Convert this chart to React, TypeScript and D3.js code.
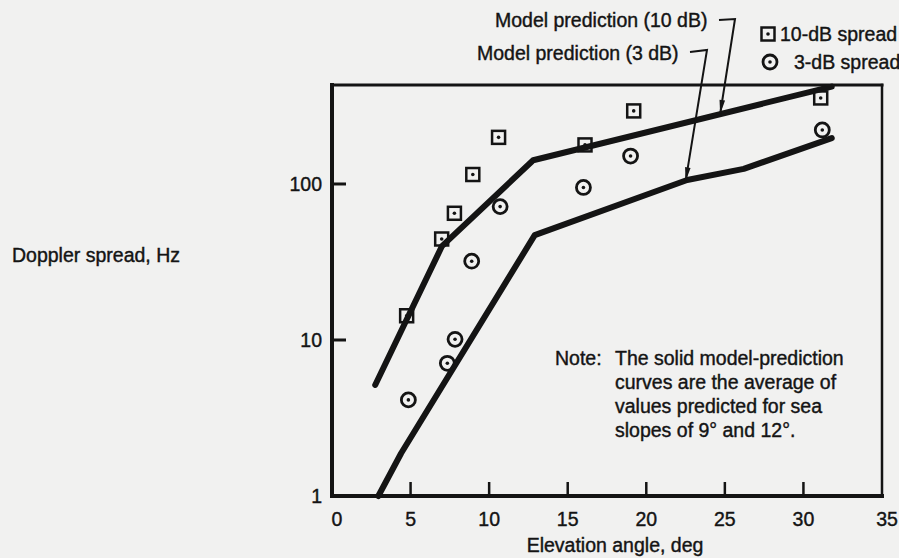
import * as d3 from 'd3';
import { useRef, useEffect } from 'react';

// 10-dB spread measurements (squares)
const spread10Angle = [4.75, 6.98, 7.79, 8.96, 10.6, 16.1, 19.2, 31.1];
const spread10Hz = [14.3, 44.4, 64.9, 115, 199, 178, 294, 356];

// 3-dB spread measurements (circles)
const spread3Angle = [4.86, 7.34, 7.83, 8.89, 10.7, 16.0, 19.0, 31.2];
const spread3Hz = [4.13, 7.09, 10.1, 32, 71.6, 95, 151, 222];

// model prediction curves
const model10Angle = [2.75, 7.0, 12.8, 31.8];
const model10Hz = [5.15, 40, 142, 421];
const model3Angle = [2.95, 4.4, 12.9, 22.6, 26.2, 31.8];
const model3Hz = [1, 1.88, 47, 106, 125, 197];

const xTicks = [0, 5, 10, 15, 20, 25, 30, 35];
const yTicks = [1, 10, 100];

const noteLines = [
  'The solid model-prediction',
  'curves are the average of',
  'values predicted for sea',
  'slopes of 9° and 12°.',
];

const W = 899;
const H = 558;
const FONT = '"Liberation Sans", Arial, sans-serif';
const INK = '#141414';
const BG = '#f1f1f0';

export default function App() {
  const svgRef = useRef<SVGSVGElement | null>(null);

  useEffect(() => {
    if (!svgRef.current) return;
    const root = d3.select(svgRef.current);
    root.selectAll('*').remove();

    const left = 332;
    const right = 882;
    const top = 85;
    const bottom = 496;

    const x = d3.scaleLinear().domain([0, 35]).range([left, right]);
    const y = d3.scaleLog().domain([1, 431]).range([bottom, top]);

    root.append('rect').attr('width', W).attr('height', H).attr('fill', BG);

    const text = (tx: number, ty: number, s: string, anchor = 'start') =>
      root
        .append('text')
        .attr('x', tx)
        .attr('y', ty)
        .attr('text-anchor', anchor)
        .attr('font-family', FONT)
        .attr('font-size', '19.5px')
        .attr('fill', INK)
        .attr('stroke', INK)
        .attr('stroke-width', 0.4)
        .text(s);

    // Marco
    const frame: [number, number, number, number, number][] = [
      [left, top, left, bottom, 4],
      [left, bottom, right, bottom, 4],
      [left, top, right, top, 3],
      [right, top, right, bottom, 2.5],
    ];
    frame.forEach(([x1, y1, x2, y2, w]) => {
      root
        .append('line')
        .attr('x1', x1)
        .attr('y1', y1)
        .attr('x2', x2)
        .attr('y2', y2)
        .attr('stroke', INK)
        .attr('stroke-width', w)
        .attr('stroke-linecap', 'square');
    });

    // Marcas X (hacia dentro)
    xTicks.forEach((v) => {
      if (v > 0 && v < 35) {
        root
          .append('line')
          .attr('x1', x(v))
          .attr('x2', x(v))
          .attr('y1', bottom)
          .attr('y2', bottom - 14)
          .attr('stroke', INK)
          .attr('stroke-width', 2.5);
      }
      const dx = v === 0 || v === 35 ? 5 : 0;
      text(x(v) + dx, 526, `${v}`, 'middle');
    });

    // Marcas Y
    yTicks.forEach((v) => {
      if (v > 1) {
        root
          .append('line')
          .attr('x1', left)
          .attr('x2', left + 14)
          .attr('y1', y(v))
          .attr('y2', y(v))
          .attr('stroke', INK)
          .attr('stroke-width', 3);
      }
      text(322, y(v) + 7, `${v}`, 'end');
    });

    text(615, 552, 'Elevation angle, deg', 'middle');
    text(12, 262, 'Doppler spread, Hz');

    // Marcadores
    const square = (cx: number, cy: number) => {
      root
        .append('rect')
        .attr('x', cx - 6.5)
        .attr('y', cy - 6.5)
        .attr('width', 13)
        .attr('height', 13)
        .attr('fill', BG)
        .attr('stroke', INK)
        .attr('stroke-width', 2.5);
      root.append('circle').attr('cx', cx).attr('cy', cy).attr('r', 1.8).attr('fill', INK);
    };
    const ring = (cx: number, cy: number) => {
      root
        .append('circle')
        .attr('cx', cx)
        .attr('cy', cy)
        .attr('r', 7)
        .attr('fill', BG)
        .attr('stroke', INK)
        .attr('stroke-width', 2.8);
      root.append('circle').attr('cx', cx).attr('cy', cy).attr('r', 1.8).attr('fill', INK);
    };

    spread10Angle.forEach((a, i) => square(x(a), y(spread10Hz[i])));
    spread3Angle.forEach((a, i) => ring(x(a), y(spread3Hz[i])));

    // Curvas del modelo
    const drawCurve = (angles: number[], hz: number[]) => {
      const pts = angles.map((a, i) => [x(a), y(hz[i])] as [number, number]);
      root
        .append('path')
        .attr('d', d3.line()(pts))
        .attr('fill', 'none')
        .attr('stroke', INK)
        .attr('stroke-width', 6)
        .attr('stroke-linejoin', 'round')
        .attr('stroke-linecap', 'round');
    };
    drawCurve(model10Angle, model10Hz);
    drawCurve(model3Angle, model3Hz);

    // Líneas guía con flecha
    const leader = (tx: number, ty: number, cornerX: number, cornerY: number, endX: number, endY: number) => {
      root
        .append('path')
        .attr('d', `M${tx},${ty}L${cornerX},${cornerY}L${endX},${endY}`)
        .attr('fill', 'none')
        .attr('stroke', INK)
        .attr('stroke-width', 2);
      const ang = Math.atan2(endY - cornerY, endX - cornerX);
      const len = 14;
      const half = 2.8;
      const bx = endX - Math.cos(ang) * len;
      const by = endY - Math.sin(ang) * len;
      const px = -Math.sin(ang) * half;
      const py = Math.cos(ang) * half;
      root
        .append('path')
        .attr('d', `M${endX},${endY}L${bx + px},${by + py}L${bx - px},${by - py}Z`)
        .attr('fill', INK);
    };

    text(495, 27, 'Model prediction (10 dB)');
    leader(719, 20, 735, 19, x(24.7), y(281));

    text(477, 60, 'Model prediction (3 dB)');
    leader(690, 52, 707, 50, x(22.5), y(104));

    // Leyenda
    square(768, 34);
    text(780, 41, '10-dB spread');
    ring(770, 62);
    text(794, 69, '3-dB spread');

    // Nota
    text(555, 365, 'Note:');
    noteLines.forEach((s, i) => text(615, 365 + i * 24, s));
  }, []);

  return <svg ref={svgRef} width={W} height={H} style={{ position: 'fixed', left: 0, top: 0 }} />;
}
